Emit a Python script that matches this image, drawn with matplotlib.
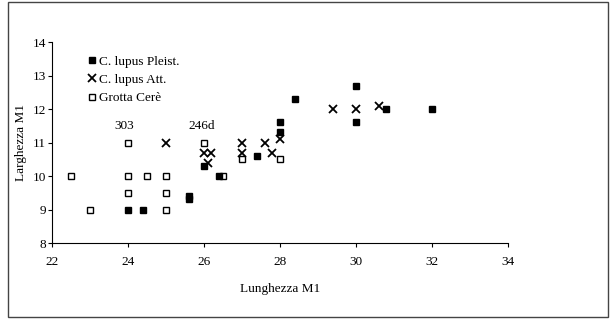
import matplotlib
matplotlib.use("Agg")
import matplotlib.pyplot as plt
from matplotlib.patches import Rectangle

plt.rcParams['font.family'] = ['Liberation Serif', 'DejaVu Serif']

# C. lupus Pleist. (filled squares)
pleist_x = [24, 24.4, 25.6, 25.6, 26, 26.4, 27.4, 28, 28, 28.4, 30, 30, 30.8, 32]
pleist_y = [9, 9, 9.3, 9.4, 10.3, 10, 10.6, 11.3, 11.6, 12.3, 12.7, 11.6, 12, 12]

# C. lupus Att. (crosses)
att_x = [25, 26, 26.2, 26.1, 27, 27, 27.6, 27.8, 28, 29.4, 30, 30.6]
att_y = [11, 10.7, 10.7, 10.4, 11, 10.7, 11, 10.7, 11.1, 12, 12, 12.1]

# Grotta Cere (open squares)
cere_x = [22.5, 23, 24, 24, 24, 24.5, 25, 25, 25, 26, 26.5, 27, 28]
cere_y = [10, 9, 11, 10, 9.5, 10, 10, 9.5, 9, 11, 10, 10.5, 10.5]

labels = ["303", "246d"]
label_x = [23.9, 25.95]
label_y = [11.3, 11.3]

fig = plt.figure(figsize=(6.11, 3.2), dpi=100)
ax = fig.add_axes([0.085, 0.2406, 0.746, 0.628])

ax.plot(cere_x, cere_y, ls="none", marker="s", ms=4.4, mfc="white", mec="black", mew=1.0,
        label="Grotta Cerè", zorder=3)
ax.plot(pleist_x, pleist_y, ls="none", marker="s", ms=4.6, color="black",
        label="C. lupus Pleist.", zorder=4)
ax.plot(att_x, att_y, ls="none", marker="x", ms=5.5, mew=1.3, color="black",
        label="C. lupus Att.", zorder=5)

for t, x, y in zip(labels, label_x, label_y):
    ax.text(x, y, t, ha="center", va="bottom", fontsize=9.5)

ax.set_xlim(22, 34)
ax.set_ylim(8, 14)
ax.set_xticks(range(22, 35, 2))
ax.set_yticks(range(8, 15))
ax.spines["top"].set_visible(False)
ax.spines["right"].set_visible(False)
ax.tick_params(labelsize=9.5, width=0.8, direction="out")
ax.tick_params(axis="x", length=3, pad=6)
ax.tick_params(axis="y", length=3, pad=1.5)
ax.set_xlabel("Lunghezza M1", fontsize=9.5, labelpad=11)
ax.set_ylabel("Larghezza M1", fontsize=9.5, labelpad=4)

h, l = ax.get_legend_handles_labels()
order = [1, 2, 0]
ax.legend([h[i] for i in order], [l[i] for i in order], loc="upper left",
          bbox_to_anchor=(0.065, 0.965), frameon=False, fontsize=9.5,
          handlelength=0.6, handletextpad=0.2, labelspacing=0.45, borderpad=0)

fig.patches.append(Rectangle((0.013, 0.008), 0.982, 0.985, transform=fig.transFigure,
                             fill=False, ec="#444444", lw=1.0))

fig.savefig("out.png", dpi=100)
